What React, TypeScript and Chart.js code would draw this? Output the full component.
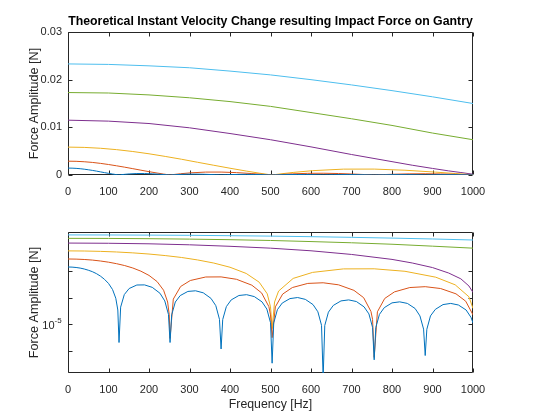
import React, { useEffect, useRef } from 'react';
import { Chart, registerables } from 'chart.js';

Chart.register(...registerables);

// ---------------- data ----------------
const xTicks = [0, 100, 200, 300, 400, 500, 600, 700, 800, 900, 1000];
const topYTicks = [0, 0.01, 0.02, 0.03];
const bottomYTicks = [1e-6, 1e-5, 1e-4, 1e-3];
const bottomYLabelBase = '10';
const bottomYLabelExp = '-5';
const bottomYLabelValue = 1e-5;

const titleText = 'Theoretical Instant Velocity Change resulting Impact Force on Gantry';
const yLabelText = 'Force Amplitude [N]';
const xLabelText = 'Frequency [Hz]';

const blueFreq = [
  0, 10, 20, 30, 40, 50, 60, 70, 80, 90, 100, 110, 118, 123, 126,
  130, 139, 151, 170, 189, 208, 227, 239, 248, 252,
  256, 265, 277, 296, 315, 334, 353, 365, 374, 378,
  382, 391, 403, 422, 441, 460, 479, 491, 500, 504,
  508, 517, 529, 548, 567, 586, 605, 617, 626, 630,
  634, 643, 655, 674, 693, 712, 731, 743, 752, 756,
  760, 769, 781, 800, 819, 838, 857, 869, 878, 882,
  886, 895, 907, 926, 945, 964, 983, 995, 1000,
];
const blueAmp = [
  1.45e-3, 1.435e-3, 1.39e-3, 1.32e-3, 1.22e-3, 1.1e-3, 9.7e-4, 8.2e-4, 6.6e-4, 5.0e-4, 3.5e-4, 2.06e-4, 9.7e-5, 3.5e-5, 2.1e-6,
  4.5e-5, 1.33e-4, 2.25e-4, 3.05e-4, 3.08e-4, 2.49e-4, 1.5e-4, 7.7e-5, 2.4e-5, 2.1e-6,
  2.3e-5, 7.0e-5, 1.22e-4, 1.75e-4, 1.85e-4, 1.55e-4, 9.6e-5, 5.1e-5, 1.56e-5, 1.2e-6,
  1.53e-5, 4.7e-5, 8.4e-5, 1.23e-4, 1.32e-4, 1.12e-4, 7.1e-5, 3.8e-5, 1.17e-5, 3.5e-7,
  1.15e-5, 3.6e-5, 6.4e-5, 9.4e-5, 1.03e-4, 8.8e-5, 5.6e-5, 3.0e-5, 9.3e-6, 1.0e-7,
  9.2e-6, 2.9e-5, 5.2e-5, 7.7e-5, 8.4e-5, 7.3e-5, 4.6e-5, 2.5e-5, 7.8e-6, 4.7e-7,
  7.7e-6, 2.4e-5, 4.3e-5, 6.5e-5, 7.1e-5, 6.2e-5, 4.0e-5, 2.1e-5, 6.7e-6, 6.8e-7,
  6.6e-6, 2.1e-5, 3.7e-5, 5.6e-5, 6.2e-5, 5.4e-5, 3.5e-5, 1.86e-5, 1.14e-5,
];

const redFreq = [
  0, 20, 40, 60, 80, 100, 120, 140, 160, 180, 200, 220, 236, 246, 250, 252,
  260, 278, 302, 340, 378, 416, 454, 478, 496, 500, 504,
  512, 530, 554, 592, 630, 668, 706, 730, 748, 752, 756,
  764, 782, 806, 844, 882, 920, 958, 982, 1000,
];
const redAmp = [
  2.9e-3, 2.87e-3, 2.78e-3, 2.64e-3, 2.44e-3, 2.2e-3, 1.93e-3, 1.64e-3, 1.33e-3, 1.01e-3, 7.0e-4, 4.1e-4, 1.94e-4, 7.0e-5, 2.3e-5, 3.0e-6,
  9.0e-5, 2.67e-4, 4.5e-4, 6.1e-4, 6.15e-4, 5.0e-4, 3.0e-4, 1.54e-4, 4.7e-5, 2.3e-5, 3.2e-6,
  4.6e-5, 1.39e-4, 2.45e-4, 3.5e-4, 3.7e-4, 3.1e-4, 1.92e-4, 1.02e-4, 3.1e-5, 1.56e-5, 5.8e-7,
  3.0e-5, 9.5e-5, 1.68e-4, 2.45e-4, 2.64e-4, 2.25e-4, 1.42e-4, 7.5e-5, 2.3e-5,
];

const yellowFreq = [
  0, 40, 80, 120, 160, 200, 240, 280, 320, 360, 400, 440, 472, 492, 500, 504,
  510, 520, 556, 604, 680, 756, 832, 908, 956, 990, 1000,
];
const yellowAmp = [
  5.85e-3, 5.79e-3, 5.61e-3, 5.32e-3, 4.93e-3, 4.45e-3, 3.9e-3, 3.31e-3, 2.67e-3, 2.04e-3, 1.42e-3, 8.3e-4, 3.9e-4, 1.42e-4, 4.6e-5, 7.0e-6,
  7.0e-5, 1.81e-4, 5.4e-4, 9.1e-4, 1.23e-3, 1.24e-3, 1.0e-3, 6.0e-4, 3.1e-4, 1.1e-4, 4.0e-5,
];

const purpleFreq = [0, 100, 200, 300, 400, 500, 600, 700, 800, 850, 900, 940, 970, 990, 1000];
const purpleAmp = [11.5e-3, 11.3e-3, 10.8e-3, 9.9e-3, 8.7e-3, 7.4e-3, 5.9e-3, 4.3e-3, 2.8e-3, 2.05e-3, 1.38e-3, 8.6e-4, 5.2e-4, 2.8e-4, 1.6e-4];

const greenFreq = [0, 100, 200, 300, 400, 500, 600, 700, 800, 900, 1000];
const greenAmp = [17.3e-3, 17.2e-3, 16.8e-3, 16.2e-3, 15.4e-3, 14.4e-3, 13.1e-3, 11.8e-3, 10.4e-3, 8.8e-3, 7.4e-3];

const cyanFreq = [0, 100, 200, 300, 400, 500, 600, 700, 800, 900, 1000];
const cyanAmp = [23.3e-3, 23.2e-3, 22.9e-3, 22.5e-3, 21.8e-3, 21.0e-3, 20.0e-3, 18.9e-3, 17.7e-3, 16.4e-3, 15.0e-3];

const seriesColors = ['#0072BD', '#D95319', '#EDB120', '#7E2F8E', '#77AC30', '#4DBEEE'];
const seriesFreqs = [blueFreq, redFreq, yellowFreq, purpleFreq, greenFreq, cyanFreq];
const seriesAmps = [blueAmp, redAmp, yellowAmp, purpleAmp, greenAmp, cyanAmp];

// ---------------- style / layout ----------------
const FONT = '"Liberation Sans", Arial, Helvetica, sans-serif';
const AXIS_COLOR = '#262626';
const W = 560;
const H = 210;
const PLOT_LEFT = 68;
const PLOT_RIGHT = 473;
const TICK = 4;

function makeDatasets() {
  return seriesFreqs.map((freq, s) => ({
    data: freq.map((f, i) => ({ x: f, y: seriesAmps[s][i] })),
    borderColor: seriesColors[s],
    backgroundColor: seriesColors[s],
    borderWidth: 1,
    pointRadius: 0,
    fill: false,
    tension: 0,
  }));
}

function boxPlugin(yTickValues: number[]) {
  return {
    id: 'matlabBox',
    beforeDatasetsDraw(chart: any) {
      const { ctx, chartArea: a } = chart;
      const xs = chart.scales.x;
      const ys = chart.scales.y;
      const L = Math.round(a.left) + 0.5;
      const R = Math.round(a.right) - 0.5;
      const T = Math.round(a.top) + 0.5;
      const B = Math.round(a.bottom) - 0.5;
      ctx.save();
      ctx.strokeStyle = AXIS_COLOR;
      ctx.lineWidth = 1;
      ctx.beginPath();
      ctx.rect(L, T, R - L, B - T);
      for (const v of xTicks) {
        const px = Math.round(xs.getPixelForValue(v)) + 0.5;
        ctx.moveTo(px, B);
        ctx.lineTo(px, B - TICK);
        ctx.moveTo(px, T);
        ctx.lineTo(px, T + TICK);
      }
      for (const v of yTickValues) {
        const py = Math.round(ys.getPixelForValue(v)) + 0.5;
        ctx.moveTo(L, py);
        ctx.lineTo(L + TICK, py);
        ctx.moveTo(R, py);
        ctx.lineTo(R - TICK, py);
      }
      ctx.stroke();
      ctx.restore();
    },
  };
}

function textPlugin(isTop: boolean) {
  return {
    id: 'matlabText',
    afterDraw(chart: any) {
      const { ctx, chartArea: a } = chart;
      const cx = (a.left + a.right) / 2;
      ctx.save();
      ctx.textAlign = 'center';
      ctx.textBaseline = 'middle';
      if (isTop) {
        ctx.fillStyle = '#000';
        ctx.font = `bold 12.3px ${FONT}`;
        ctx.fillText(titleText, cx, 21.5);
      }
      // y label
      ctx.fillStyle = AXIS_COLOR;
      ctx.font = `12.6px ${FONT}`;
      ctx.save();
      ctx.translate(35, (a.top + a.bottom) / 2);
      ctx.rotate(-Math.PI / 2);
      ctx.fillText(yLabelText, 0, 0);
      ctx.restore();
      if (!isTop) {
        ctx.font = `12.3px ${FONT}`;
        ctx.fillText(xLabelText, cx, 194.5);
        const py = chart.scales.y.getPixelForValue(bottomYLabelValue);
        ctx.textAlign = 'right';
        ctx.font = `11px ${FONT}`;
        ctx.fillText(bottomYLabelBase, 54.5, py + 1.5);
        ctx.textAlign = 'left';
        ctx.font = `8px ${FONT}`;
        ctx.fillText(bottomYLabelExp, 54.5, py - 4);
      }
      ctx.restore();
    },
  };
}

function xScale(height: number) {
  return {
    type: 'linear',
    min: 0,
    max: 1000,
    afterBuildTicks: (s: any) => {
      s.ticks = xTicks.map((v) => ({ value: v }));
    },
    afterFit: (s: any) => {
      s.height = height;
    },
    ticks: {
      callback: (v: any) => String(v),
      font: { family: FONT, size: 11 },
      color: AXIS_COLOR,
      padding: 10,
      maxRotation: 0,
      autoSkip: false,
    },
    grid: { display: false, drawTicks: false },
    border: { display: false },
  };
}

function makeTopConfig(): any {
  return {
    type: 'line',
    data: { datasets: makeDatasets() },
    options: {
      responsive: false,
      animation: false,
      devicePixelRatio: 1,
      events: [],
      layout: { padding: { left: 0, right: W - PLOT_RIGHT, top: 32, bottom: 0 } },
      plugins: { legend: { display: false }, tooltip: { enabled: false }, title: { display: false } },
      scales: {
        x: xScale(H - 175),
        y: {
          type: 'linear',
          min: 0,
          max: 0.03,
          afterBuildTicks: (s: any) => {
            s.ticks = topYTicks.map((v) => ({ value: v }));
          },
          afterFit: (s: any) => {
            s.width = PLOT_LEFT;
          },
          ticks: {
            callback: (v: any) => String(v),
            font: { family: FONT, size: 11 },
            color: AXIS_COLOR,
            padding: 6,
          },
          grid: { display: false, drawTicks: false },
          border: { display: false },
        },
      },
    },
    plugins: [boxPlugin(topYTicks), textPlugin(true)],
  };
}

function makeBottomConfig(): any {
  return {
    type: 'line',
    data: { datasets: makeDatasets() },
    options: {
      responsive: false,
      animation: false,
      devicePixelRatio: 1,
      events: [],
      layout: { padding: { left: 0, right: W - PLOT_RIGHT, top: 22, bottom: 0 } },
      plugins: { legend: { display: false }, tooltip: { enabled: false }, title: { display: false } },
      scales: {
        x: xScale(H - 163),
        y: {
          type: 'logarithmic',
          min: 1.5e-7,
          max: 0.03,
          afterBuildTicks: (s: any) => {
            s.ticks = bottomYTicks.map((v) => ({ value: v }));
          },
          afterFit: (s: any) => {
            s.width = PLOT_LEFT;
          },
          ticks: { display: false },
          grid: { display: false, drawTicks: false },
          border: { display: false },
        },
      },
    },
    plugins: [boxPlugin(bottomYTicks), textPlugin(false)],
  };
}

export default function App() {
  const topRef = useRef<HTMLCanvasElement | null>(null);
  const bottomRef = useRef<HTMLCanvasElement | null>(null);

  useEffect(() => {
    if (!topRef.current || !bottomRef.current) return;
    const c1 = new Chart(topRef.current, makeTopConfig());
    const c2 = new Chart(bottomRef.current, makeBottomConfig());
    return () => {
      c1.destroy();
      c2.destroy();
    };
  }, []);

  return (
    <div style={{ position: 'fixed', left: 0, top: 0, width: W, height: 2 * H, background: '#fff' }}>
      <canvas ref={topRef} width={W} height={H} style={{ position: 'absolute', left: 0, top: 0, width: W, height: H }} />
      <canvas ref={bottomRef} width={W} height={H} style={{ position: 'absolute', left: 0, top: H, width: W, height: H }} />
    </div>
  );
}
